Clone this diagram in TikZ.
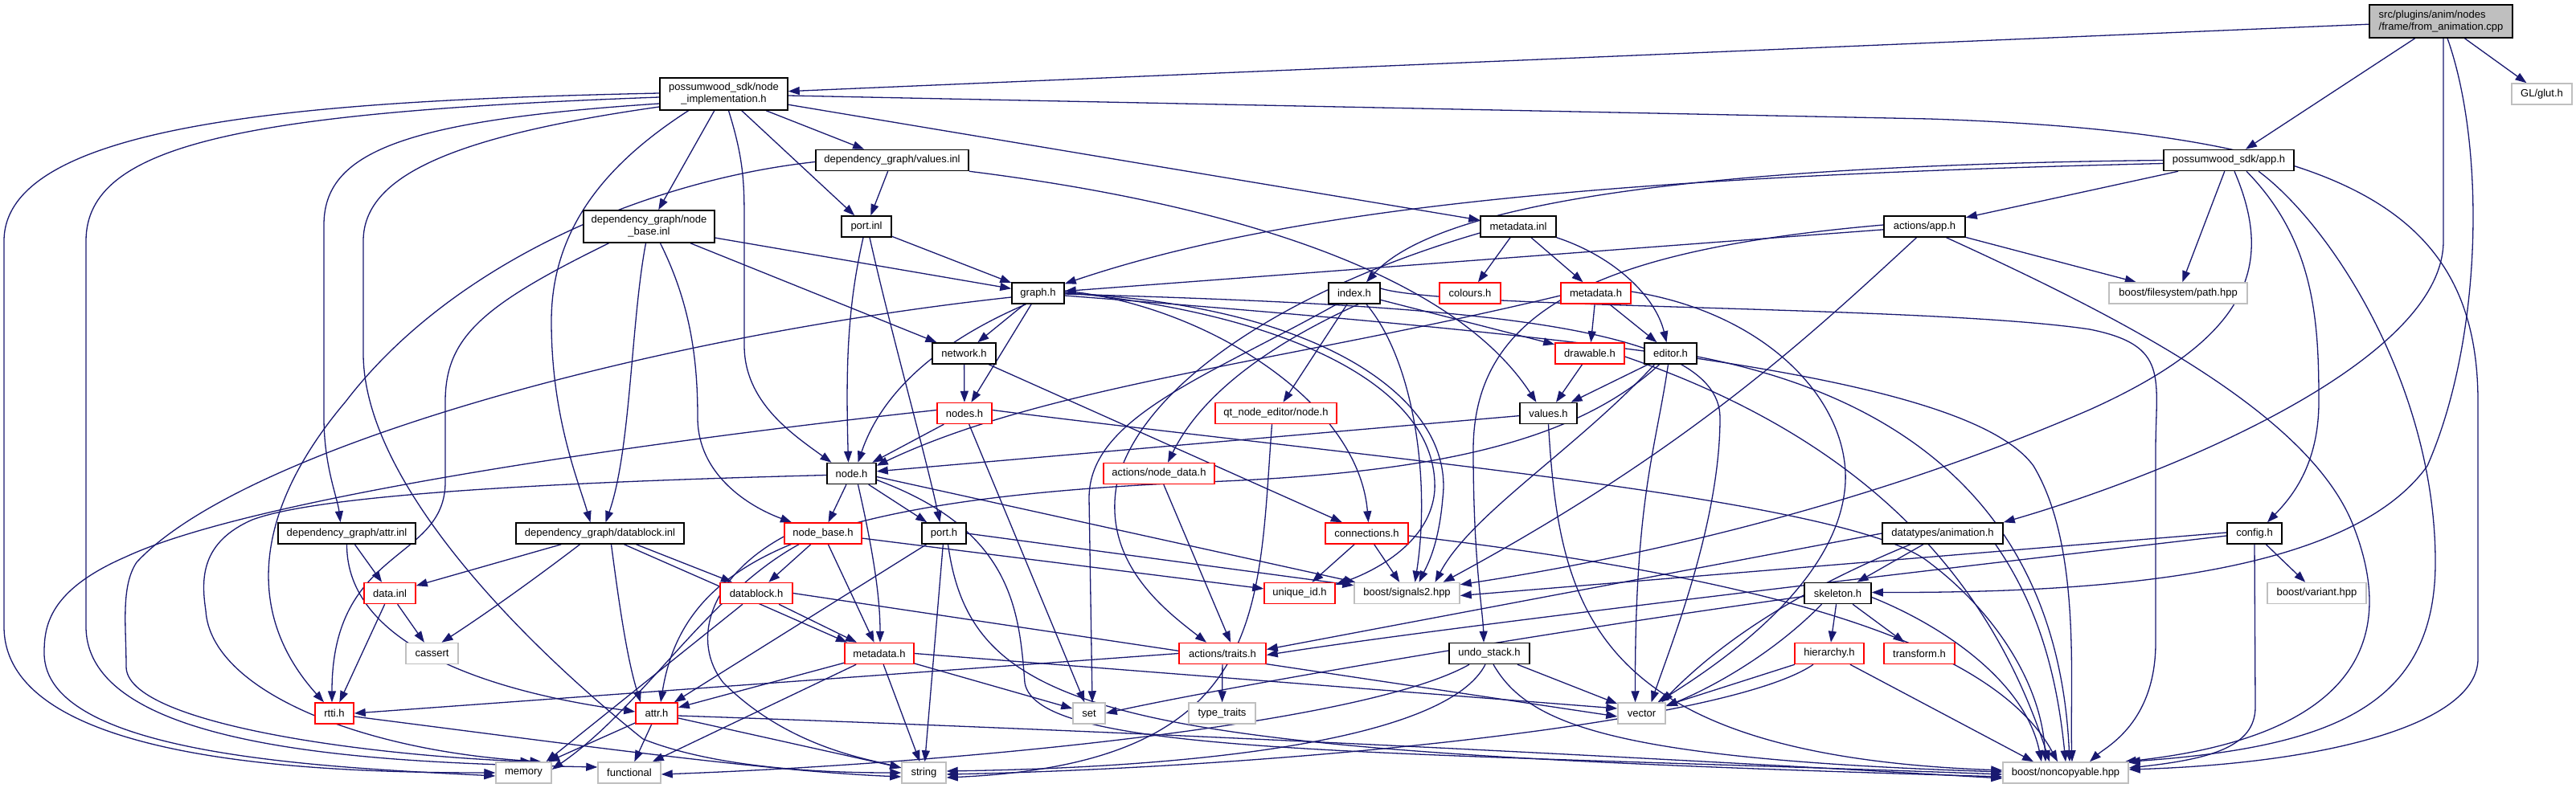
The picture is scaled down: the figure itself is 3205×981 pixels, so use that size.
\documentclass[tikz,border=0pt]{standalone}
\usepackage{fontspec}
\usetikzlibrary{arrows.meta}
\newfontfamily\lib{Liberation Sans}
\definecolor{navy}{HTML}{191970}
\definecolor{grey75}{HTML}{BFBFBF}
\pgfdeclarelayer{edgelayer}
\pgfsetlayers{edgelayer,main}
\tikzset{
  box/.style={draw=black, line width=1.5pt, fill=white, inner sep=0pt, font=\lib\fontsize{13}{15}\selectfont, align=center},
  rbox/.style={box, draw=red},
  gbox/.style={box, draw=grey75},
  root/.style={box, fill=grey75, align=left},
  lnk/.style={draw=navy, line width=1.3pt, -{Triangle[length=14pt,width=10pt]}}
}
\newcommand\mkbox[7]{\node[#2,minimum width=#5pt,minimum height=#6pt] (#1) at (#3,#4) {#7};}
\begin{document}
\begin{tikzpicture}[x=1pt,y=-1pt]
\useasboundingbox (0,0) rectangle (3205,981);
% nodes
\mkbox{F}{root}{3037}{26.5}{178}{41}{src/plugins/anim/nodes\\/frame/from\_animation.cpp}
\mkbox{glut}{gbox}{3162.5}{117}{75}{26}{GL/glut.h}
\mkbox{NI}{box}{900.5}{117}{159}{40}{possumwood\_sdk/node\\\_implementation.h}
\mkbox{APP}{box}{2773}{199.5}{162}{26}{possumwood\_sdk/app.h}
\mkbox{valinl}{box}{1110}{199.5}{190}{26}{dependency\_graph/values.inl}
\mkbox{nbinl}{box}{807.5}{282}{163}{40}{dependency\_graph/node\\\_base.inl}
\mkbox{portinl}{box}{1078}{282}{62}{26}{port.inl}
\mkbox{mdinl}{box}{1889}{282}{94}{26}{metadata.inl}
\mkbox{aapp}{box}{2394.5}{282}{101}{26}{actions/app.h}
\mkbox{hpath}{gbox}{2710}{365}{172}{26}{boost/filesystem/path.hpp}
\mkbox{graph}{box}{1291.5}{365}{65}{26}{graph.h}
\mkbox{index}{box}{1685}{365}{64}{26}{index.h}
\mkbox{colours}{rbox}{1829}{365}{76}{26}{colours.h}
\mkbox{mdone}{rbox}{1985.5}{365}{87}{26}{metadata.h}
\mkbox{network}{box}{1199.5}{440}{79}{26}{network.h}
\mkbox{drawable}{rbox}{1978}{440}{86}{26}{drawable.h}
\mkbox{editor}{box}{2078.5}{440}{65}{26}{editor.h}
\mkbox{nodes}{rbox}{1200}{514.5}{68}{26}{nodes.h}
\mkbox{qtnode}{rbox}{1587.5}{514.5}{151}{26}{qt\_node\_editor/node.h}
\mkbox{values}{box}{1926.5}{514.5}{71}{26}{values.h}
\mkbox{nodeh}{box}{1059.5}{589.5}{61}{26}{node.h}
\mkbox{nodedata}{rbox}{1442}{589.5}{138}{26}{actions/node\_data.h}
\mkbox{attrinl}{box}{431.5}{664}{171}{26}{dependency\_graph/attr.inl}
\mkbox{dbinl}{box}{746.5}{664}{209}{26}{dependency\_graph/datablock.inl}
\mkbox{nodebase}{rbox}{1024}{664}{96}{26}{node\_base.h}
\mkbox{port}{box}{1174.5}{664}{55}{26}{port.h}
\mkbox{conn}{rbox}{1700.5}{664}{103}{26}{connections.h}
\mkbox{anim}{box}{2417}{664}{150}{26}{datatypes/animation.h}
\mkbox{config}{box}{2805}{664}{68}{26}{config.h}
\mkbox{datainl}{rbox}{485}{738.5}{64}{26}{data.inl}
\mkbox{datablock}{rbox}{941}{738.5}{90}{26}{datablock.h}
\mkbox{uid}{rbox}{1617}{738.5}{88}{26}{unique\_id.h}
\mkbox{sig}{gbox}{1750.5}{738.5}{131}{26}{boost/signals2.hpp}
\mkbox{skel}{box}{2286.5}{738.5}{83}{26}{skeleton.h}
\mkbox{variant}{gbox}{2882.5}{738.5}{123}{26}{boost/variant.hpp}
\mkbox{cassert}{gbox}{537.5}{813.5}{65}{26}{cassert}
\mkbox{mdtwo}{rbox}{1094}{813.5}{86}{26}{metadata.h}
\mkbox{traits}{rbox}{1521}{813.5}{108}{26}{actions/traits.h}
\mkbox{undo}{box}{1853}{813.5}{100}{26}{undo\_stack.h}
\mkbox{hier}{rbox}{2276}{813.5}{86}{26}{hierarchy.h}
\mkbox{transform}{rbox}{2388}{813.5}{88}{26}{transform.h}
\mkbox{rtti}{rbox}{416}{888}{48}{26}{rtti.h}
\mkbox{attr}{rbox}{817}{888}{52}{26}{attr.h}
\mkbox{nSet}{gbox}{1355}{888}{40}{26}{set}
\mkbox{typetraits}{gbox}{1520.5}{888}{83}{26}{type\_traits}
\mkbox{vector}{gbox}{2042.5}{888}{59}{26}{vector}
\mkbox{memory}{gbox}{651.5}{962}{69}{26}{memory}
\mkbox{functional}{gbox}{783}{962}{78}{26}{functional}
\mkbox{nString}{gbox}{1149.5}{962}{55}{26}{string}
\mkbox{noncopy}{gbox}{2570}{962}{156}{26}{boost/noncopyable.hpp}
\begin{pgfonlayer}{edgelayer}
% F
\draw[lnk] (F) -- (NI);
\draw[lnk] (F) -- (APP);
\draw[lnk] (F) -- (glut);
\draw[lnk] ([xshift=3pt]F.south) -- (3040,300) .. controls (3040,450) and (2700,590) .. (anim.north east);
\draw[lnk] ([xshift=8pt]F.south) .. controls (3092,180) and (3090,420) .. (3020,580) .. controls (2920,720) and (2600,738) .. ([yshift=1pt]skel.east);
% NI
\draw[lnk] ([yshift=-2pt]NI.east) -- (2400,148) .. controls (2900,165) and (3083,250) .. (3083,500) -- (3083,820) .. controls (3083,900) and (2900,950) .. ([yshift=4pt]noncopy.east);
\draw[lnk] (NI) -- (mdinl);
\draw[lnk] (NI) -- (valinl);
\draw[lnk] (NI) -- (portinl);
\draw[lnk] (NI) -- (nbinl);
\draw[lnk] ([xshift=6pt]NI.south) .. controls (926,200) and (926,230) .. (926,280) -- (926,430) .. controls (926,500) and (985,540) .. ([xshift=-25pt]nodeh.north);
\draw[lnk] ([xshift=-44pt]NI.south) .. controls (760,200) and (686,280) .. (686,400) .. controls (686,520) and (720,600) .. ([xshift=-12pt]dbinl.north);
\draw[lnk] ([yshift=-12pt]NI.west) .. controls (500,150) and (403,190) .. (403,280) -- (403,520) .. controls (403,580) and (420,620) .. ([xshift=-8pt]attrinl.north);
\draw[lnk] ([yshift=-16pt]NI.west) .. controls (560,170) and (452,220) .. (452,300) -- (452,440) .. controls (452,600) and (650,800) .. (800,920) .. controls (900,960) and (1050,962) .. (nString.west);
\draw[lnk] ([yshift=1pt]NI.west) .. controls (400,125) and (5,150) .. (5,300) -- (5,780) .. controls (5,950) and (400,962) .. (memory.west);
\draw[lnk] ([yshift=-4pt]NI.west) .. controls (300,140) and (107,180) .. (107,300) -- (107,780) .. controls (107,940) and (500,950) .. ([yshift=7pt]functional.west);
% values.inl
\draw[lnk] (valinl) -- (portinl);
\draw[lnk] (valinl.south east) .. controls (1500,250) and (1800,330) .. ([xshift=-15pt]values.north);
\draw[lnk] ([yshift=-2pt]valinl.west) .. controls (800,225) and (560,330) .. (430,500) .. controls (320,630) and (300,760) .. ([xshift=-13pt]rtti.north);
% node_base.inl
\draw[lnk] (nbinl) -- (graph);
\draw[lnk] (nbinl) -- (network);
\draw[lnk] ([xshift=14pt]nbinl.south) .. controls (860,380) and (868,450) .. (868,520) .. controls (868,590) and (930,630) .. ([xshift=-39pt]nodebase.north);
\draw[lnk] ([xshift=-4pt]nbinl.south) .. controls (785,400) and (785,560) .. ([xshift=7pt]dbinl.north);
\draw[lnk] ([xshift=-50pt]nbinl.south) .. controls (600,380) and (554,420) .. (554,500) -- (554,600) .. controls (554,700) and (413,680) .. ([xshift=-3pt]rtti.north);
% port.inl
\draw[lnk] (portinl) -- (graph);
\draw[lnk] ([xshift=-4pt]portinl.south) .. controls (1055,380) and (1052,450) .. ([xshift=-4pt]nodeh.north);
\draw[lnk] ([xshift=4pt]portinl.south) .. controls (1110,420) and (1150,560) .. ([xshift=-5pt]port.north);
% metadata.inl
\draw[lnk] (mdinl) -- (colours);
\draw[lnk] (mdinl) -- (mdone);
\draw[lnk] (mdinl.south east) .. controls (2010,320) and (2060,370) .. ([xshift=-5pt]editor.north);
\draw[lnk] ([yshift=-8pt]mdinl.west) .. controls (1600,360) and (1420,480) .. (1390,600) .. controls (1370,700) and (1450,760) .. ([xshift=-20pt]traits.north);
% actions/app.h
\draw[lnk] (aapp) -- (hpath);
\draw[lnk] (aapp) -- (graph);
\draw[lnk] ([xshift=27pt]aapp.south) .. controls (2650,400) and (2880,520) .. (2930,660) .. controls (2990,820) and (2900,920) .. ([xshift=-5pt]noncopy.north east);
\draw[lnk] ([xshift=-10pt]aapp.south) .. controls (2250,420) and (2100,560) .. ([xshift=45pt]sig.north);
\draw[lnk] ([yshift=2pt]aapp.west) .. controls (2000,310) and (1833,380) .. (1833,560) .. controls (1833,700) and (1845,760) .. ([xshift=-7pt]undo.north);
% app.h
\draw[lnk] (APP) -- (aapp);
\draw[lnk] (APP) -- (hpath);
\draw[lnk] (APP.west) .. controls (2200,205) and (1800,240) .. ([xshift=15pt]index.north);
\draw[lnk] ([yshift=-4pt]APP.west) .. controls (2000,220) and (1600,260) .. ([yshift=-2pt]graph.north east);
\draw[lnk] ([xshift=22pt]APP.south) .. controls (2880,300) and (2885,400) .. (2885,500) .. controls (2885,580) and (2850,620) .. ([xshift=16pt]config.north);
\draw[lnk] ([xshift=37pt]APP.south) .. controls (2900,280) and (3030,480) .. (3030,700) .. controls (3030,880) and (2900,930) .. (noncopy.north east);
\draw[lnk] ([xshift=7pt]APP.south) .. controls (2830,330) and (2800,420) .. (2600,510) .. controls (2300,640) and (2000,700) .. ([yshift=-3pt]sig.north east);
% index.h
\draw[lnk] (index) -- (drawable);
\draw[lnk] (index) -- (qtnode);
\draw[lnk] ([xshift=15pt]index.south) .. controls (1760,450) and (1780,600) .. ([xshift=10pt]sig.north);
\draw[lnk] ([yshift=6pt]index.east) .. controls (1800,385) and (2400,380) .. (2600,410) .. controls (2700,430) and (2682,470) .. (2682,560) -- (2682,800) .. controls (2682,900) and (2620,930) .. ([xshift=30pt]noncopy.north);
\draw[lnk] ([xshift=-22pt]index.south) .. controls (1500,470) and (1355,520) .. (1355,620) -- ([xshift=4pt]nSet.north);
\draw[lnk] ([xshift=5pt]index.south) .. controls (1600,420) and (1500,480) .. ([xshift=11pt]nodedata.north);
% metadata.h (sdk)
\draw[lnk] (mdone) -- (drawable);
\draw[lnk] (mdone) -- (editor);
\draw[lnk] ([yshift=-3pt]mdone.west) .. controls (1600,450) and (1300,480) .. ([yshift=-4pt]nodeh.north east);
\draw[lnk] ([yshift=2pt]mdone.east) .. controls (2200,390) and (2300,500) .. (2296,600) .. controls (2290,720) and (2150,820) .. ([xshift=20pt]vector.north);
% drawable.h
\draw[lnk] (drawable) -- (values);
\draw[lnk] ([yshift=-4pt]drawable.east) .. controls (2300,540) and (2470,700) .. ([xshift=-20pt]noncopy.north);
% editor.h
\draw[lnk] (editor) -- (values);
\draw[lnk] ([xshift=-3pt]editor.south) .. controls (2060,560) and (2034,620) .. ([xshift=-8pt]vector.north);
\draw[lnk] ([xshift=-20pt]editor.south) .. controls (1960,560) and (1830,640) .. ([xshift=35pt]sig.north);
\draw[lnk] ([yshift=-4pt]editor.east) .. controls (2350,490) and (2560,620) .. ([xshift=5pt]noncopy.north);
\draw[lnk] ([xshift=-14pt]editor.south) .. controls (1950,560) and (1750,590) .. (1500,600) .. controls (1000,620) and (850,700) .. ([xshift=5pt]attr.north);
% values.h
\draw[lnk] (values) -- (nodeh);
\draw[lnk] (values.south) .. controls (1940,760) and (1980,940) .. ([yshift=3pt]noncopy.west);
% network.h
\draw[lnk] (network) -- (nodes);
\draw[lnk] (network) -- (conn);
% nodes.h
\draw[lnk] (nodes) -- (nodeh);
\draw[lnk] (nodes) -- (nSet);
\draw[lnk] ([yshift=4pt]nodes.west) .. controls (800,550) and (314,620) .. (157,693) .. controls (60,735) and (55,780) .. (55,813) .. controls (55,940) and (400,955) .. ([yshift=-4pt]memory.west);
\draw[lnk] ([yshift=4pt]nodes.east) .. controls (1700,570) and (2300,620) .. (2400,700) .. controls (2480,760) and (2540,850) .. ([xshift=-25pt]noncopy.north);
% node.h
\draw[lnk] (nodeh) -- (nodebase);
\draw[lnk] (nodeh) -- (port);
\draw[lnk] ([xshift=8pt]nodeh.south) .. controls (1085,680) and (1095,740) .. ([xshift=1pt]mdtwo.north);
\draw[lnk] ([yshift=-2pt]nodeh.west) .. controls (700,600) and (400,615) .. (314,647) .. controls (250,675) and (250,720) .. (256,760) .. controls (262,860) and (450,935) .. ([xshift=22pt]memory.north);
\draw[lnk] ([yshift=-4pt]nodeh.east) -- ([xshift=2pt]sig.north west);
\draw[lnk] ([yshift=-8pt]nodeh.east) .. controls (1260,660) and (1268,760) .. (1275,850) .. controls (1290,940) and (1700,935) .. ([yshift=-2pt]noncopy.west);
% node_base.h
\draw[lnk] (nodebase) -- (datablock);
\draw[lnk] (nodebase) -- (mdtwo);
\draw[lnk] (nodebase) -- (uid);
\draw[lnk] ([yshift=-4pt]nodebase.west) .. controls (880,720) and (860,800) .. (900,850) .. controls (980,930) and (1080,945) .. ([yshift=6pt]nString.west);
\draw[lnk] ([xshift=-30pt]nodebase.south) .. controls (880,740) and (800,880) .. ([yshift=4pt]memory.east);
% port.h
\draw[lnk] (port) -- (attr);
\draw[lnk] (port) -- (nString);
\draw[lnk] ([xshift=5pt]port.south) .. controls (1210,900) and (1400,935) .. ([yshift=-5pt]noncopy.west);
\draw[lnk] (port.east) -- ([yshift=-4pt]sig.north west);
% datablock.inl
\draw[lnk] (dbinl) -- (datainl);
\draw[lnk] ([xshift=-25pt]dbinl.south) .. controls (640,740) and (580,780) .. ([xshift=12pt]cassert.north);
\draw[lnk] ([xshift=45pt]dbinl.south) -- ([xshift=-30pt]datablock.north);
\draw[lnk] ([xshift=30pt]dbinl.south) -- ([xshift=-40pt]mdtwo.north);
\draw[lnk] ([xshift=14pt]dbinl.south) .. controls (770,750) and (780,820) .. ([xshift=-20pt]attr.north);
% attr.inl
\draw[lnk] (attrinl) -- (datainl);
\draw[lnk] (attrinl.south) .. controls (431,800) and (600,860) .. ([yshift=2pt]attr.west);
% data.inl
\draw[lnk] (datainl) -- (cassert);
\draw[lnk] (datainl) -- (rtti);
% datablock.h
\draw[lnk] (datablock) -- (mdtwo);
\draw[lnk] (datablock) -- ([xshift=28pt]memory.north);
\draw[lnk] (datablock.east) -- ([yshift=-4pt]vector.west);
% metadata.h (graph)
\draw[lnk] (mdtwo) -- (attr);
\draw[lnk] (mdtwo) -- (nSet);
\draw[lnk] (mdtwo) -- (nString);
\draw[lnk] (mdtwo) -- (functional);
\draw[lnk] (mdtwo.east) -- ([yshift=6pt]vector.west);
% attr.h
\draw[lnk] (attr) -- (memory);
\draw[lnk] (attr) -- (functional);
\draw[lnk] (attr) -- (nString);
\draw[lnk] ([yshift=-3pt]attr.east) .. controls (1400,910) and (2000,940) .. ([yshift=-7pt]noncopy.west);
% rtti.h
\draw[lnk] ([yshift=-4pt]rtti.east) .. controls (700,925) and (950,960) .. ([yshift=-5pt]nString.west);
% traits
\draw[lnk] (traits) -- (typetraits);
\draw[lnk] (traits.west) -- (rtti.east);
% animation.h
\draw[lnk] (anim) -- (skel);
\draw[lnk] (anim.west) -- ([yshift=5pt]traits.east);
\draw[lnk] ([xshift=-40pt]anim.south) .. controls (2250,730) and (2150,790) .. ([xshift=25pt]vector.north);
\draw[lnk] ([xshift=-10pt]anim.south east) .. controls (2540,760) and (2560,850) .. (noncopy.north);
% config.h
\draw[lnk] (config) -- (variant);
\draw[lnk] (config.south) -- (2806,880) .. controls (2806,930) and (2750,945) .. ([yshift=6pt]noncopy.east);
\draw[lnk] ([yshift=1pt]config.west) -- ([yshift=-3pt]sig.east);
\draw[lnk] ([yshift=-3pt]config.west) .. controls (2400,710) and (1800,780) .. ([yshift=-2pt]traits.east);
% skeleton.h
\draw[lnk] (skel) -- (hier);
\draw[lnk] (skel) -- (transform);
\draw[lnk] ([xshift=-20pt]skel.south) .. controls (2200,820) and (2120,860) .. ([yshift=-5pt]vector.north east);
\draw[lnk] ([yshift=-5pt]skel.east) .. controls (2420,780) and (2520,850) .. ([xshift=-30pt]noncopy.north);
\draw[lnk] ([yshift=-4pt]skel.west) .. controls (1900,790) and (1500,860) .. (nSet.east);
% undo_stack.h
\draw[lnk] (undo) -- (vector);
\draw[lnk] ([xshift=5pt]undo.south) .. controls (1900,900) and (2000,945) .. ([yshift=1pt]noncopy.west);
\draw[lnk] ([xshift=-5pt]undo.south) .. controls (1800,920) and (1500,955) .. ([yshift=2pt]nString.east);
\draw[lnk] ([xshift=-25pt]undo.south) .. controls (1700,900) and (1200,950) .. ([yshift=-2pt]functional.east);
% hierarchy.h
\draw[lnk] (hier) -- (vector);
\draw[lnk] (hier) -- ([xshift=-40pt]noncopy.north);
\draw[lnk] ([xshift=-20pt]hier.south) .. controls (2150,900) and (1600,955) .. ([yshift=-2pt]nString.east);
% qt node
\draw[lnk] ([xshift=-5pt]qtnode.south) .. controls (1565,760) and (1580,950) .. ([yshift=-6pt]nString.east);
% node_data
\draw[lnk] (nodedata) -- ([xshift=10pt]traits.north);
% connections
\draw[lnk] (conn) -- (uid);
\draw[lnk] (conn) -- (sig);
\draw[lnk] ([yshift=-3pt]conn.east) .. controls (2200,720) and (2480,800) .. ([xshift=-10pt]noncopy.north);
% graph.h
\draw[lnk] (graph) -- (network);
\draw[lnk] (graph) -- (nodes);
\draw[lnk] ([xshift=-15pt]graph.south) .. controls (1180,420) and (1100,480) .. ([xshift=8pt]nodeh.north);
\draw[lnk] ([yshift=-5pt]graph.west) .. controls (800,420) and (300,560) .. (170,700) .. controls (150,730) and (157,780) .. (157,830) .. controls (157,900) and (450,940) .. ([xshift=10pt]memory.north);
\draw[lnk] ([yshift=3pt]graph.east) .. controls (1500,380) and (1690,500) .. ([xshift=2pt]conn.north);
\draw[lnk] ([yshift=1pt]graph.east) .. controls (1600,390) and (1790,480) .. (1785,610) .. controls (1780,680) and (1700,715) .. ([yshift=-3pt]uid.north east);
\draw[lnk] (graph.east) .. controls (1650,380) and (1810,500) .. (1795,620) .. controls (1790,680) and (1775,705) .. ([xshift=15pt]sig.north);
\draw[lnk] ([yshift=-1pt]graph.east) .. controls (1800,380) and (2140,400) .. (2140,520) .. controls (2140,650) and (2080,800) .. ([xshift=12pt]vector.north);
\draw[lnk] ([yshift=-3pt]graph.east) .. controls (2000,420) and (2450,470) .. (2530,580) .. controls (2590,680) and (2575,850) .. ([xshift=8pt]noncopy.north);
\end{pgfonlayer}
\end{tikzpicture}
\end{document}
